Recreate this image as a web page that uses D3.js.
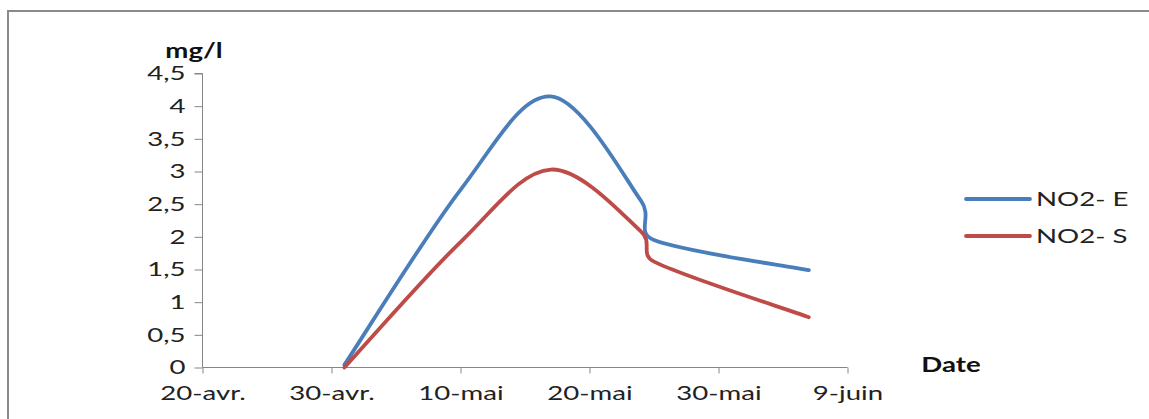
<!DOCTYPE html>
<html>
<head>
<meta charset="utf-8">
<script src="https://cdn.jsdelivr.net/npm/d3@7/dist/d3.min.js"></script>
<style>
  html, body { margin: 0; padding: 0; background: #fff; }
  svg { display: block; font-family: Lato, "Open Sans", "DejaVu Sans", sans-serif; }
</style>
</head>
<body>
<svg id="chart" width="1149" height="419"></svg>
<script>
// Sampling dates and NO2 concentrations (mg/l)
const sampleDates = ["2013-05-01", "2013-05-10", "2013-05-17", "2013-05-24", "2013-05-25", "2013-06-06"];
const no2Entry = [0.04, 2.72, 4.15, 2.55, 1.95, 1.49];
const no2Exit = [0.0, 1.92, 3.03, 2.08, 1.62, 0.77];
const seriesNames = ["NO2- E", "NO2- S"];
const seriesColors = ["#4A7EBB", "#BE4B48"];
const yTicks = [0, 0.5, 1, 1.5, 2, 2.5, 3, 3.5, 4, 4.5];
const xTickDates = ["2013-04-20", "2013-04-30", "2013-05-10", "2013-05-20", "2013-05-30", "2013-06-09"];
const monthNames = ["janv.", "févr.", "mars", "avr.", "mai", "juin", "juil.", "août", "sept.", "oct.", "nov.", "déc."];

const parse = d3.utcParse("%Y-%m-%d");
const dates = sampleDates.map(parse);
const series = [no2Entry, no2Exit].map((vals, i) => ({
  name: seriesNames[i],
  color: seriesColors[i],
  points: vals.map((v, j) => ({ date: dates[j], value: v }))
}));

// Spreadsheet-style smoothing: cubic Bezier through every point, control arms
// of 1/6 of the neighbour chord, capped at half of the segment length.
function curveSmoothCapped(context) {
  let pts;
  return {
    areaStart() {}, areaEnd() {},
    lineStart() { pts = []; },
    point(x, y) { pts.push([+x, +y]); },
    lineEnd() {
      const n = pts.length;
      if (!n) return;
      context.moveTo(pts[0][0], pts[0][1]);
      if (n === 2) { context.lineTo(pts[1][0], pts[1][1]); return; }
      for (let i = 0; i < n - 1; i++) {
        const p0 = pts[Math.max(i - 1, 0)], p1 = pts[i], p2 = pts[i + 1], p3 = pts[Math.min(i + 2, n - 1)];
        const d12 = Math.hypot(p2[0] - p1[0], p2[1] - p1[1]);
        const d02 = Math.hypot(p2[0] - p0[0], p2[1] - p0[1]);
        const d13 = Math.hypot(p3[0] - p1[0], p3[1] - p1[1]);
        let f0 = 1 / 6, f1 = 1 / 6;
        if (d02 / 6 > d12 / 2) f0 = d12 / (2 * d02);
        if (d13 / 6 > d12 / 2) f1 = d12 / (2 * d13);
        context.bezierCurveTo(
          p1[0] + f0 * (p2[0] - p0[0]), p1[1] + f0 * (p2[1] - p0[1]),
          p2[0] - f1 * (p3[0] - p1[0]), p2[1] - f1 * (p3[1] - p1[1]),
          p2[0], p2[1]);
      }
    }
  };
}

const TEXT_STRETCH = 1.38;
// Widen text horizontally around its own anchor point
function stretch(sel) {
  sel.each(function () {
    const t = d3.select(this);
    const x0 = +t.attr("x") || 0;
    t.attr("x", 0).attr("transform", `translate(${x0},0) scale(${TEXT_STRETCH},1)`);
  });
}

const svg = d3.select("#chart");

// Outer chart frame (only top and left edges fall inside the view)
svg.append("path")
  .attr("d", "M8,419 L8,11 L1149,11")
  .attr("fill", "none")
  .attr("stroke", "#8a8a8a")
  .attr("stroke-width", 2);

const x = d3.scaleUtc()
  .domain([parse(xTickDates[0]), parse(xTickDates[xTickDates.length - 1])])
  .range([202.5, 847.5]);
const y = d3.scaleLinear().domain([0, 4.5]).range([367.5, 73.5]);

const fmtTick = d => d.getUTCDate() + "-" + monthNames[d.getUTCMonth()];
const fmtY = d => String(d).replace(".", ",");

// Y axis
const yAxis = svg.append("g")
  .attr("transform", "translate(202.5,0)")
  .call(d3.axisLeft(y).tickValues(yTicks).tickSize(8).tickPadding(9).tickFormat(fmtY));
yAxis.select(".domain").attr("stroke", "#868686").attr("d", `M-8,${y(4.5)}H0V${y(0)}`);
yAxis.selectAll(".tick line").attr("stroke", "#868686");
yAxis.selectAll(".tick text")
  .attr("font-size", 20).attr("fill", "#222").attr("font-family", "Lato, sans-serif")
  .call(stretch);

// X axis
const xAxis = svg.append("g")
  .attr("transform", "translate(0,367.5)")
  .call(d3.axisBottom(x).tickValues(xTickDates.map(parse)).tickSize(6).tickPadding(12).tickFormat(fmtTick));
xAxis.select(".domain").attr("stroke", "#868686").attr("d", `M${x.range()[0]},0H${x.range()[1]}`);
xAxis.selectAll(".tick line").attr("stroke", "#868686");
xAxis.selectAll(".tick text")
  .attr("font-size", 20).attr("fill", "#222").attr("font-family", "Lato, sans-serif")
  .call(stretch);

// Axis titles
svg.append("text")
  .attr("x", 194).attr("y", 58).attr("text-anchor", "middle")
  .attr("font-size", 20).attr("font-weight", "bold").attr("fill", "#111")
  .text("mg/l").call(stretch);
svg.append("text")
  .attr("x", 951).attr("y", 372).attr("text-anchor", "middle")
  .attr("font-size", 20).attr("font-weight", "bold").attr("fill", "#111")
  .text("Date").call(stretch);

// Smoothed lines
const line = d3.line()
  .x(d => x(d.date))
  .y(d => y(d.value))
  .curve(curveSmoothCapped);

svg.append("g").selectAll("path")
  .data(series)
  .join("path")
  .attr("d", d => line(d.points))
  .attr("fill", "none")
  .attr("stroke", d => d.color)
  .attr("stroke-width", 3.8)
  .attr("stroke-linecap", "round")
  .attr("stroke-linejoin", "round");

// Legend
const legend = svg.append("g").selectAll("g")
  .data(series)
  .join("g")
  .attr("transform", (d, i) => `translate(966,${199 + i * 37})`);
legend.append("line")
  .attr("x1", 0).attr("x2", 64)
  .attr("stroke", d => d.color).attr("stroke-width", 3.8).attr("stroke-linecap", "round");
legend.append("text")
  .attr("x", 70).attr("dy", "0.36em")
  .attr("font-size", 20).attr("fill", "#222")
  .text(d => d.name)
  .call(stretch);
</script>
</body>
</html>
